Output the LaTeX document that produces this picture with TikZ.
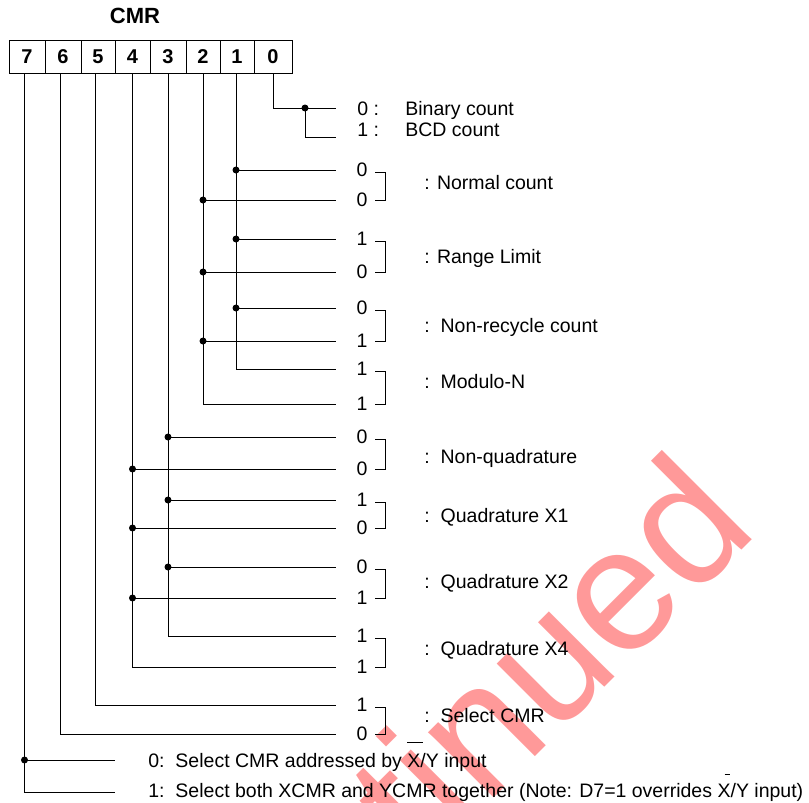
\documentclass[tikz,border=0pt]{standalone}
\usepackage{fontspec}
\setmainfont{Liberation Sans}
\usetikzlibrary{calc}
\definecolor{wm}{RGB}{255,153,153}
\begin{document}
\begin{tikzpicture}[x=1pt,y=-1pt,line width=0.8pt,
  txt/.style={inner sep=0pt,font=\fontsize{19.5}{23}\selectfont},
  dig/.style={txt,anchor=center},
  lab/.style={txt,anchor=base west},
  cell/.style={draw,line width=0.8pt,minimum height=33.5pt,inner sep=0pt,font=\bfseries\fontsize{20}{24}\selectfont},
  jdot/.style={circle,fill,inner sep=0pt,minimum size=7pt},
  brk/.style={line width=0.7pt}]
\useasboundingbox (0,0) rectangle (809,803);
% watermark
\begin{scope}
\clip (0,0) rectangle (809,803);
\node[rotate=45,anchor=base east,text=wm,inner sep=0pt,font=\fontsize{175}{175}\selectfont] (wmk) at (761,531) {Discontinued};
\end{scope}
% register
\node[font=\bfseries\fontsize{22}{26}\selectfont,inner sep=0pt] (title) at (135,16) {CMR};
\node[cell,minimum width=36pt] (b7) at (27,56.75) {7};
\node[cell,minimum width=36pt] (b6) at (63,56.75) {6};
\node[cell,minimum width=34pt] (b5) at (98,56.75) {5};
\node[cell,minimum width=35pt] (b4) at (132.5,56.75) {4};
\node[cell,minimum width=36pt] (b3) at (168,56.75) {3};
\node[cell,minimum width=34pt] (b2) at (203,56.75) {2};
\node[cell,minimum width=34pt] (b1) at (237,56.75) {1};
\node[cell,minimum width=38pt] (b0) at (273,56.75) {0};
\coordinate (v7) at ([xshift=-2.5pt]b7.south);
\coordinate (v6) at ([xshift=-3pt]b6.south);
\coordinate (v5) at ([xshift=-2.5pt]b5.south);
\coordinate (v4) at (b4.south);
\coordinate (v3) at (b3.south);
\coordinate (v2) at (b2.south);
\coordinate (v1) at ([xshift=-1pt]b1.south);
\coordinate (v0) at (b0.south);
\coordinate (endx) at (336,0);
\coordinate (end7) at (115,0);
% bit 0
\coordinate (r00) at (0,108);
\coordinate (r01) at (0,137);
\coordinate (jx0) at (305,0);
\node[lab] (l00) at (357,115) {0 :};
\node[lab] (l01) at (357,136) {1 :};
\node[lab] (bin) at (405,115) {Binary count};
\node[lab] (bcd) at (405,136) {BCD count};
\draw (v0) |- (r00 -| endx);
\draw (r00 -| jx0) node[jdot]{} |- (r01 -| endx);
% digit rows
\node[dig] (dn1) at (362,170) {0};
\node[dig] (dn2) at (362,200) {0};
\node[dig] (dr1) at (362,239) {1};
\node[dig] (dr2) at (362,272) {0};
\node[dig] (dc1) at (362,308) {0};
\node[dig] (dc2) at (362,341) {1};
\node[dig] (dm1) at (362,369) {1};
\node[dig] (dm2) at (362,404) {1};
\node[dig] (q1) at (362,437) {0};
\node[dig] (q2) at (362,469) {0};
\node[dig] (q3) at (362,500) {1};
\node[dig] (q4) at (362,528) {0};
\node[dig] (q5) at (362,567) {0};
\node[dig] (q6) at (362,598) {1};
\node[dig] (q7) at (362,636) {1};
\node[dig] (q8) at (362,667) {1};
\node[dig] (s1) at (362,705) {1};
\node[dig] (s2) at (362,734) {0};
% bit 1 and bit 2
\draw (v1) |- (dm1 -| endx);
\foreach \n in {dn1,dr1,dc1} \draw (v1 |- \n) node[jdot]{} -- (\n -| endx);
\draw (v2) |- (dm2 -| endx);
\foreach \n in {dn2,dr2,dc2} \draw (v2 |- \n) node[jdot]{} -- (\n -| endx);
% bit 3 and bit 4
\draw (v3) |- (q7 -| endx);
\foreach \n in {q1,q3,q5} \draw (v3 |- \n) node[jdot]{} -- (\n -| endx);
\draw (v4) |- (q8 -| endx);
\foreach \n in {q2,q4,q6} \draw (v4 |- \n) node[jdot]{} -- (\n -| endx);
% bit 5 and bit 6
\draw (v5) |- (s1 -| endx);
\draw (v6) |- (s2 -| endx);
% brackets
\foreach \a/\b in {dn1/dn2,dr1/dr2,dc1/dc2,dm1/dm2,q1/q2,q3/q4,q5/q6,q7/q8,s1/s2}
  \draw[brk] ($(\a)+(13,2)$) -- ++(10,0) |- ($(\b)+(13,0)$);
% labels
\node[lab] (ln) at (424,189) {: Normal count};
\node[lab] (lr) at (424,263) {: Range Limit};
\node[lab] (lc) at (424,332) {:\ \ Non-recycle count};
\node[lab] (lm) at (424,388) {:\ \ Modulo-N};
\node[lab] (lq0) at (424,463) {:\ \ Non-quadrature};
\node[lab] (lq1) at (424,522) {:\ \ Quadrature X1};
\node[lab] (lq2) at (424,588) {:\ \ Quadrature X2};
\node[lab] (lq4) at (424,655) {:\ \ Quadrature X4};
\node[lab] (ls) at (424,722) {:\ \ Select CMR};
% bit 7
\coordinate (r70) at (0,760);
\coordinate (r71) at (0,792);
\draw (v7) |- (r71 -| end7);
\draw (v7 |- r70) node[jdot]{} -- (r70 -| end7);
\node[lab] (t0) at (148,767) {0:\ \ Select CMR addressed by \rlap{\raisebox{24pt}{\rule{16pt}{0.8pt}}}X/Y input};
\node[lab] (t1) at (148,797) {1:\ \ Select both XCMR and YCMR together (Note: D7=1 overrides \rlap{\hspace{7pt}\raisebox{22pt}{\rule{5pt}{0.8pt}}}X/Y input)};
\end{tikzpicture}
\end{document}
